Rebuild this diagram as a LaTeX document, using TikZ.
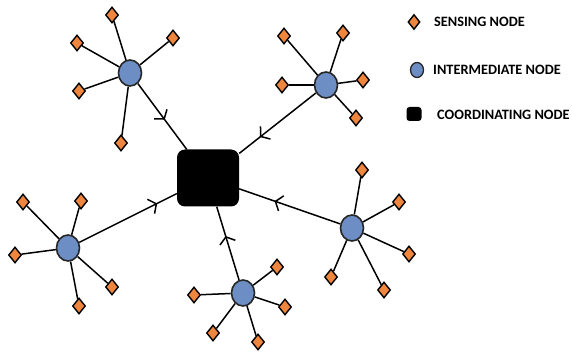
\documentclass[tikz,border=0pt]{standalone}
\usepackage{fontspec}
\setmainfont{Carlito}
\usetikzlibrary{shapes.geometric,arrows.meta,decorations.markings}
\definecolor{sensorange}{RGB}{238,134,62}
\definecolor{interblue}{RGB}{108,142,196}
\tikzset{
  sensor/.style={diamond, draw=black, line width=1.4pt, fill=sensorange, minimum width=13pt, minimum height=16pt, inner sep=0pt},
  inter/.style={ellipse, draw=black!85, line width=1.6pt, fill=interblue, minimum width=23pt, minimum height=26pt, inner sep=0pt},
  coord/.style={rectangle, rounded corners=8pt, fill=black, minimum width=62pt, minimum height=57pt, inner sep=0pt},
  link/.style={line width=1.5pt, black},
  uplink/.style={line width=1.5pt, black, decoration={markings, mark=at position #1 with {\arrow{Straight Barb[length=6pt, width=16pt, line width=1.5pt]}}}, postaction=decorate},
  legtext/.style={anchor=west, font=\bfseries\fontsize{14.3}{15}\selectfont, inner sep=0pt},
}
\begin{document}
\begin{tikzpicture}[x=1pt,y=-1pt]
\useasboundingbox (0,0) rectangle (572,352);
% coordinator
\node[coord] (sq) at (208,178) {};
% cluster 1
\node[inter] (i1) at (130,73) {};
\node[sensor] (s11) at (112,15) {};
\node[sensor] (s12) at (77,43) {};
\node[sensor] (s13) at (173,38) {};
\node[sensor] (s14) at (79,91) {};
\node[sensor] (s15) at (121,143) {};
% cluster 2
\node[inter] (i2) at (326,85) {};
\node[sensor] (s21) at (284,36) {};
\node[sensor] (s22) at (343,33) {};
\node[sensor] (s23) at (363,80) {};
\node[sensor] (s24) at (282,85) {};
\node[sensor] (s25) at (356,118) {};
% cluster 3
\node[inter] (i3) at (352,228) {};
\node[sensor] (s31) at (362,170) {};
\node[sensor] (s32) at (399,202) {};
\node[sensor] (s33) at (409,254) {};
\node[sensor] (s34) at (331,277) {};
\node[sensor] (s35) at (384,290) {};
% cluster 4
\node[inter] (i4) at (68,248) {};
\node[sensor] (s41) at (23,202) {};
\node[sensor] (s42) at (81,201) {};
\node[sensor] (s43) at (15,255) {};
\node[sensor] (s44) at (112,287) {};
\node[sensor] (s45) at (79,306) {};
% cluster 5
\node[inter] (i5) at (243,293) {};
\node[sensor] (s51) at (194,295) {};
\node[sensor] (s52) at (277,267) {};
\node[sensor] (s53) at (285,307) {};
\node[sensor] (s54) at (213,333) {};
\node[sensor] (s55) at (258,342) {};
% sensor links
\foreach \c in {1,...,5}{
  \foreach \k in {1,...,5}{
    \draw[link] (i\c) -- (s\c\k);
  }
}
% uplinks
\draw[uplink=0.55] (i1) -- (sq);
\draw[uplink=0.73] (i2) -- (sq);
\draw[uplink=0.65] (i3) -- (sq);
\draw[uplink=0.8] (i4) -- (sq);
\draw[uplink=0.6] (i5) -- (sq);
% legend
\node[sensor, minimum width=12pt, minimum height=15pt] (ls) at (414,22) {};
\node[legtext] (lst) at (434,22) {SENSING NODE};
\node[inter, minimum width=13pt, minimum height=15pt, line width=1.3pt] (li) at (417,70) {};
\node[legtext] (lit) at (433,70) {INTERMEDIATE NODE};
\node[coord, rounded corners=3pt, minimum width=15pt, minimum height=14pt] (lc) at (414,114) {};
\node[legtext] (lct) at (437,115) {COORDINATING NODE};
\end{tikzpicture}
\end{document}
